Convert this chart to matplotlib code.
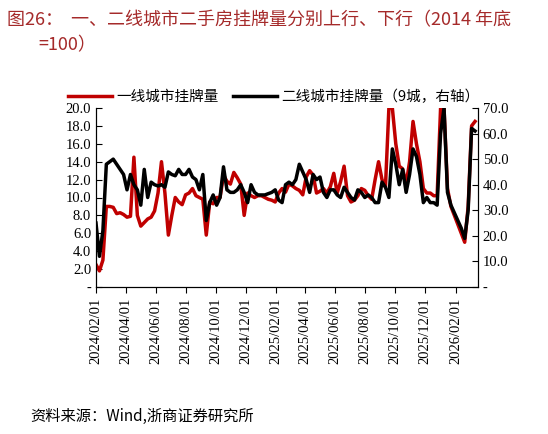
import numpy as np
import pandas as pd
import matplotlib
matplotlib.use('Agg')
from matplotlib import pyplot as plt
import matplotlib.dates as mdates

plt.rcParams['font.family'] = ['Liberation Serif', 'Noto Sans CJK SC']

# weekly data starting 2024-02-01
first_tier = [2.5, 1.8, 3.0, 9.0, 9.0, 8.9, 8.2, 8.3, 8.1, 7.8, 7.9, 14.5, 8, 6.8, 7.2, 7.6, 7.8, 8.5, 10.5, 14,
              10.5, 5.8, 8, 10, 9.5, 9.2, 10.3, 10.5, 11, 10.2, 10, 9.8, 5.8, 9.5, 9.3, 10, 10, 12.5, 11.8, 11.5,
              12.8, 12.2, 11.5, 8, 10.5, 10.2, 10, 10.2, 10.2, 10, 9.8, 9.7, 9.5, 10.5, 11, 10.6, 11.5, 11.3, 11, 10.8,
              10.3, 12.3, 13, 12.5, 10.5, 10.7, 11, 10.5, 11.2, 12.7, 10.5, 11.8, 13.5, 10.2, 9.5, 9.7, 10.2, 11, 10.8, 10.2,
              9.8, 12, 14, 12, 11.2, 20, 20, 16, 13.5, 13.2, 11.5, 14, 18.5, 16, 14, 11, 10.5, 10.5, 10.2, 10.2,
              20, 20, 11, 9, 8, 7, 6, 5, 9, 18, 18.5]
second_tier = [25, 12, 22, 48, 49, 50, 48, 46, 44, 38, 44, 40, 38, 32, 46, 35, 41, 40, 39.5, 40,
               39, 45, 44, 43.5, 46, 44, 44, 46, 43, 42, 38, 44, 26, 33, 36, 32, 35, 47, 38, 37,
               37, 38, 40, 37, 33, 40, 37, 36, 36, 36, 36.5, 37, 38, 34, 33, 40, 41, 40, 42, 48,
               45, 42, 37, 44, 42, 43, 37, 35, 38, 38, 36, 35, 39, 37, 35, 34, 38, 37, 35, 36,
               35, 33, 33, 41, 39, 35, 54, 48, 40, 46, 37, 44, 54, 51, 44, 33, 35, 33, 33, 32,
               60, 70, 37, 32, 29, 26, 23, 19, 30, 62, 61]
dates = pd.date_range('2024-02-01', periods=len(first_tier), freq='7D')

fig = plt.figure(figsize=(5.48, 4.34), dpi=100)
ax = fig.add_axes([96 / 548, 1 - 287 / 434, (478 - 96) / 548, (287 - 108) / 434])
ax2 = ax.twinx()

l1, = ax.plot(dates, first_tier, color='#c00000', lw=2.5, label='一线城市挂牌量')
l2, = ax2.plot(dates, second_tier, color='black', lw=2.5, label='二线城市挂牌量（9城，右轴）')

ax.set_ylim(0, 20)
ax.set_yticks(np.arange(0, 21, 2))
ax.set_yticklabels(['-'] + [f'{v:.1f}' for v in np.arange(2, 21, 2)])
ax2.set_ylim(0, 70)
ax2.set_yticks(np.arange(0, 71, 10))
ax2.set_yticklabels(['-'] + [f'{v:.1f}' for v in np.arange(10, 71, 10)])
ax.set_xlim(pd.Timestamp('2024-02-01'), pd.Timestamp('2026-03-18'))
ax.xaxis.set_major_locator(mdates.MonthLocator(bymonth=[2, 4, 6, 8, 10, 12]))
ax.xaxis.set_major_formatter(mdates.DateFormatter('%Y/%m/%d'))
for a in (ax, ax2):
    a.tick_params(labelsize=10.5, direction='in', length=4)
    a.spines['top'].set_visible(False)
ax.tick_params(axis='x', rotation=90, direction='out')

fig.legend(handles=[l1, l2], loc='center', bbox_to_anchor=(0.5, 1 - 97 / 434), ncol=2, frameon=False,
           handlelength=3, columnspacing=1.0, handletextpad=0.3,
           prop={'family': ['Noto Sans CJK SC', 'Liberation Serif'], 'size': 10.5})

title_color = '#a52a2a'
fig.text(0.012, 1 - 20 / 434, '图26：  一、二线城市二手房挂牌量分别上行、下行（2014 年底', fontsize=13,
         color=title_color, va='center', family=['Noto Sans CJK SC', 'Liberation Serif'])
fig.text(0.07, 1 - 45 / 434, '=100）', fontsize=13, color=title_color, va='center',
         family=['Noto Sans CJK SC', 'Liberation Serif'])
fig.text(0.055, 1 - 416 / 434, '资料来源：Wind,浙商证券研究所', fontsize=11, va='center',
         family=['Noto Sans CJK SC', 'Liberation Serif'])

fig.savefig('out.png', dpi=100)
